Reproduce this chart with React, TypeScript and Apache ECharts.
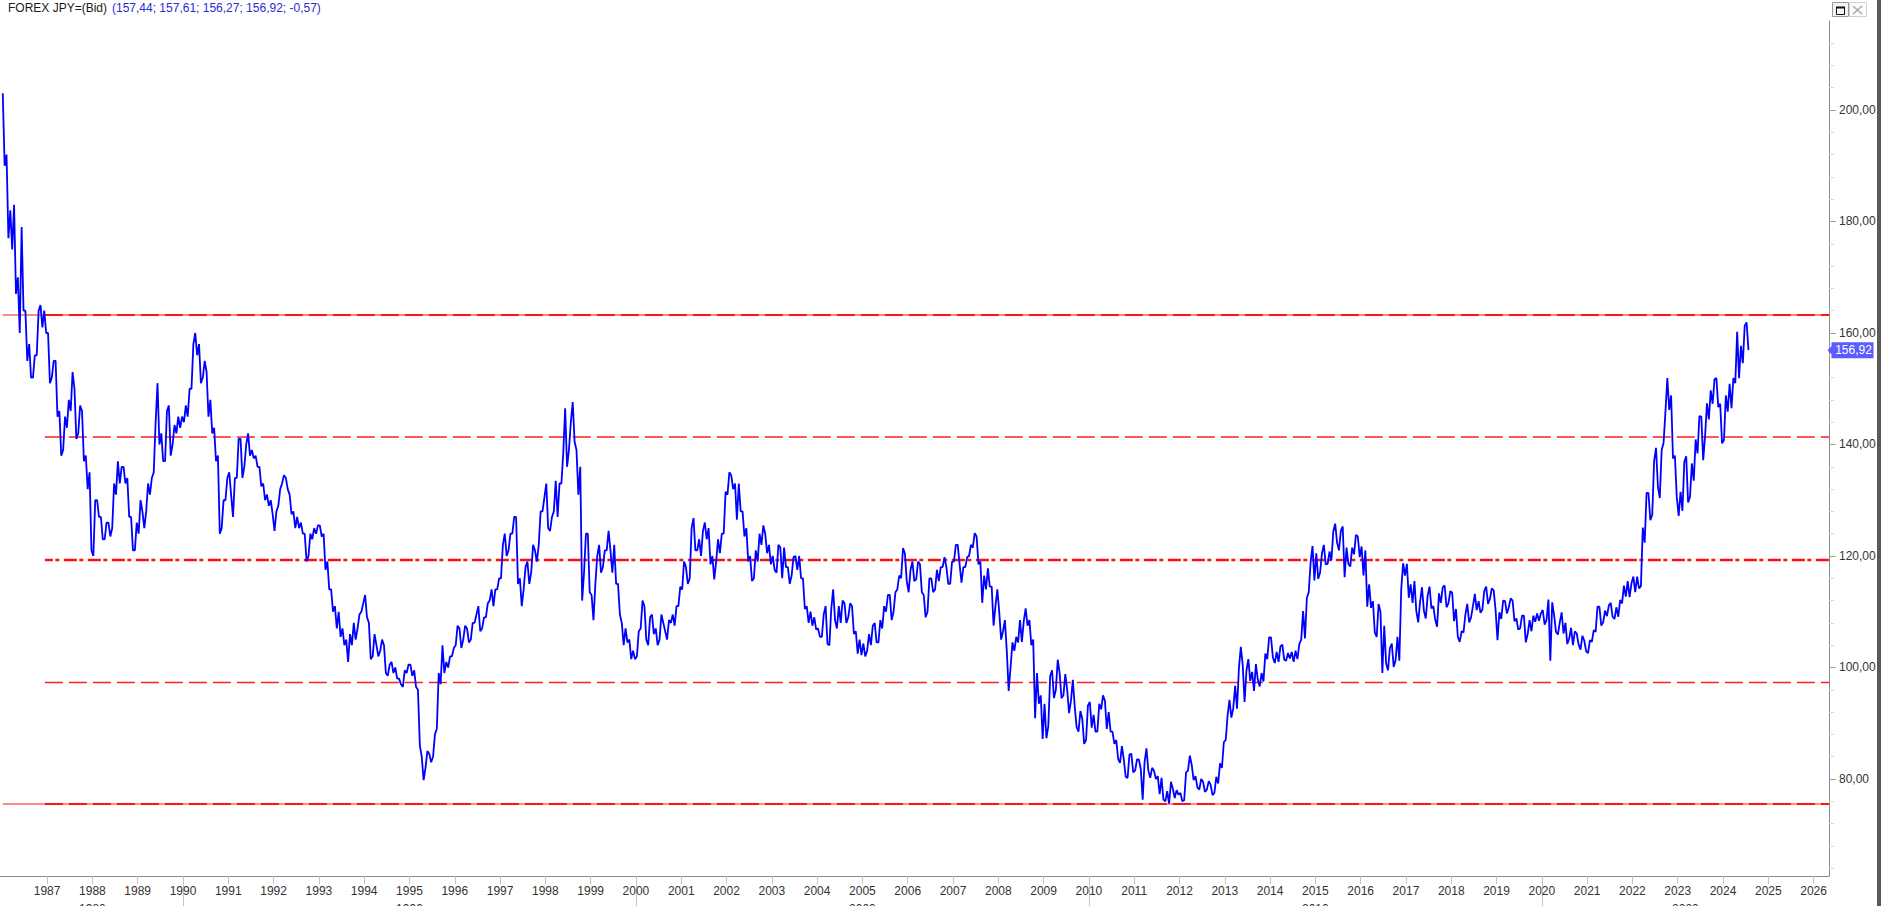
import React, { useEffect, useRef } from "react";
import * as echarts from "echarts";

const titleText = "FOREX JPY=(Bid)";
const quoteText = "(157,44; 157,61; 156,27; 156,92; -0,57)";
const lastClose = 156.92;
const firstYear = 1986;

// USD/JPY: two extremes per month (Jan 1986 .. Jul 2024), in the order they occurred
const jpy1986to1989 = [
  203, 190, 192, 177, 182, 175, 183, 167, 170, 160, 179, 164, 164, 155, 158, 152, 152, 156, 156, 164, 165, 161, 164, 160,
  160, 151, 152, 155, 155, 145, 146, 138, 139, 145, 143, 148, 146, 153, 150, 141, 142, 147, 146, 137, 138, 132, 135, 121,
  120, 130, 130, 127, 127, 123, 123, 126, 126, 123.5, 125, 133, 131, 137, 133, 136, 136, 133, 134, 127, 127, 121, 121, 126,
  124, 130, 128, 125, 128, 133, 131, 134, 135, 144, 151, 140, 142, 137, 137, 146, 147, 138, 140, 143.5, 142, 145, 143, 145,
];
const jpy1990s = [
  144, 147, 145, 150, 150, 158, 160, 156, 158, 151, 152, 155, 153, 145, 148, 142, 143, 137, 138, 124, 125, 130, 130, 134,
  135, 131, 127, 134, 134, 141, 141, 134, 136, 140, 142, 138, 139, 137.5, 138, 136, 136, 132.5, 133, 130, 131, 129, 130, 127.5,
  124.5, 128, 129, 132, 133, 134.5, 134, 132, 131, 127.5, 128, 125, 127, 125, 126, 124, 124, 119, 120, 124, 123, 125, 124, 125.5,
  125.5, 123.5, 124, 117.5, 119, 114, 114, 110, 111, 107, 110, 105.5, 107, 104, 105, 101, 106, 104, 108, 105, 107, 109.5, 110, 111.5,
  113, 109, 108, 101.5, 102, 106, 104, 102, 103, 105, 104, 99, 98.5, 100.5, 101, 99, 100, 98, 98, 97, 96.5, 99.5, 99, 100.5,
  100.5, 98.5, 99.5, 96.5, 96, 86, 84, 79.8, 82, 85, 84.5, 83, 84, 88, 89, 99, 97, 104, 99, 101, 100, 102, 102, 103.5,
  104, 107.5, 107, 103.5, 105, 107.5, 107, 104.5, 105, 108, 108, 109.5, 111, 106.5, 107, 109, 109, 111.5, 112, 114, 111, 114, 114, 116,
  116, 122, 124, 120, 121, 124, 124, 127, 127, 115, 116, 111, 114, 118, 119, 115, 117, 122, 121, 119, 122, 128, 128, 130.5,
  133, 125, 124.5, 127, 128, 133.5, 127, 133, 133, 138.5, 146.5, 136, 139, 144, 147.6, 140.5, 139, 131, 136, 112, 117, 124, 124, 113.5,
  113, 108.5, 115, 120, 122, 117, 118, 121, 121, 124.5, 121, 117, 122, 115, 115, 109.5, 108, 104, 107, 104.5, 105, 101.5, 103, 101.5,
];
const jpy2000s = [
  102, 106.5, 107, 112, 111, 105, 104, 109, 109.5, 106, 107, 104, 105, 109.5, 108, 106.5, 105, 108.5, 108, 109.5, 107.5, 111, 111, 114.5,
  114, 119, 118, 115, 116, 125, 126.8, 121, 121, 123, 120, 124.5, 126, 123, 125, 118.5, 120, 115.8, 119, 123, 120.5, 124, 124, 131.5,
  131, 135, 134.5, 132, 133, 126.5, 133, 128, 128, 123.5, 125, 119, 120, 115.5, 116, 121, 119, 124, 122, 125.5, 124, 120.5, 122, 118.5,
  120, 117.5, 117, 122, 121.5, 116, 121.5, 118, 118, 115, 116.5, 119.8, 120, 117.5, 120, 116, 116, 110.5, 111, 108, 110, 107.5, 109, 106.8,
  107, 105.5, 105.5, 109.5, 111, 104.2, 104, 110.5, 114, 108.5, 107, 111, 108, 112, 111.5, 108, 109, 111.5, 111, 106, 106.5, 102.5, 105, 102.2,
  104.3, 102, 103, 106, 104, 107.5, 108, 104.5, 104.5, 108.5, 107, 111, 110, 113, 113, 108.5, 110, 113.5, 114, 116.5, 116, 121.4, 120.5, 115.5,
  113.5, 117.5, 119, 115.5, 115.8, 119, 118.5, 113.5, 113, 109, 110, 116, 116, 113.5, 114, 117.5, 115.5, 118, 118, 119.8, 118, 115, 115, 119,
  119, 122, 122, 118.5, 115.2, 118, 118, 119.8, 120, 122, 121.5, 124.1, 123.5, 118.5, 119, 111.6, 116.5, 114, 117.8, 114.5, 114.5, 107.5, 111, 114,
  110, 105, 106.5, 108.5, 103, 95.8, 100, 104.5, 103, 105.5, 104.5, 108.5, 104.6, 108.3, 110.6, 107.5, 108.5, 104, 105, 90.9, 99, 93.5, 95, 87.2,
  93.5, 87.3, 89.5, 98.5, 99.5, 94.5, 96, 101.4, 99, 94.5, 95, 98.8, 96, 91.8, 94, 97.8, 93, 89.3, 88.5, 92.2, 90.8, 86.3, 87, 93.2,
];
const jpy2010s = [
  93.8, 89.2, 91.5, 88.5, 88.5, 93.5, 92.5, 95, 94, 89, 92, 88.5, 88.5, 86.3, 87, 83.6, 82.9, 85.9, 83.5, 80.4, 80.2, 84.4, 84.5, 81.2,
  81.5, 83.5, 83.5, 81.8, 76.3, 83, 85.5, 81.5, 80.2, 82, 81.5, 80, 80.5, 77.3, 80.2, 76.3, 76, 77.8, 75.6, 79.5, 78.2, 76.6, 78, 77.2,
  77.5, 76, 76.2, 81.2, 81.5, 84.2, 82.5, 79.8, 80.5, 78.5, 78.1, 80, 79.5, 77.7, 78.1, 79.6, 79, 77.1, 77.5, 80.4, 79.2, 82.8, 82, 86.6,
  87, 91.4, 94.2, 91, 92.7, 96.7, 92.6, 99.9, 103.7, 100.5, 93.8, 99.5, 101.5, 97.6, 99.2, 95.8, 100.6, 97.8, 96.6, 99, 97.5, 102.5, 101.5, 105.4,
  105.4, 101.8, 100.8, 102.8, 101, 103.8, 104.1, 101.4, 101.2, 102.6, 101.6, 102.8, 101, 103, 101.5, 104.2, 105, 110.1, 105.2, 112.5, 113.5, 118.9, 121.8, 115.6,
  120.5, 115.9, 117, 120.5, 122, 118.5, 118.6, 120.8, 119.2, 124.4, 125.8, 122.4, 121, 124.5, 125.3, 116.2, 121.5, 118.6, 118.1, 121.5, 120.3, 123.8, 123.5, 119.8,
  121.7, 116.5, 121, 110.9, 114.9, 110.7, 111.9, 106.3, 105.5, 111.4, 110, 99, 107.5, 100.7, 99.5, 103.5, 104.3, 100.1, 101.3, 105.5, 101.2, 114, 118.7, 116.5,
  118.6, 112.5, 114.9, 111.6, 115.5, 110.1, 108.1, 111.8, 114.4, 110.2, 108.8, 112.9, 114.5, 110.6, 111, 108.6, 107.3, 113.3, 111.6, 114.4, 114.7, 110.8, 111.5, 113.7,
  113.4, 108.3, 110.5, 105.5, 104.6, 106.5, 106.3, 109.5, 111.4, 108.1, 109, 111, 113.2, 110.3, 111.9, 109.8, 110.4, 113.7, 114.5, 111.4, 112.3, 114.2, 113.8, 110.3,
  104.9, 109.9, 108.7, 112, 111.9, 109.7, 110.8, 112.4, 112, 108.3, 108.8, 106.8, 107, 109.3, 109.3, 104.5, 106, 108.5, 106.5, 109.3, 108.2, 109.7, 108.4, 109.7,
];
const jpy2020s = [
  110.3, 107.7, 108.5, 112.2, 101.2, 111.7, 109.4, 106.4, 105.9, 108.1, 109.9, 106.1, 108, 104.2, 105.2, 107.1, 104, 106.5, 106.1, 104.1, 103.2, 105.7, 104.8, 102.9,
  102.6, 104.9, 104.6, 106.7, 106.4, 110.9, 110.9, 107.5, 108.1, 110.2, 109.2, 111.1, 111.6, 109.1, 108.7, 110.8, 109.1, 112.1, 111.5, 114.7, 112.7, 115.5, 112.6, 115.1,
  116.3, 113.5, 116.3, 114.2, 114.6, 125.1, 122.4, 131.3, 131.3, 126.4, 127.4, 137, 139.4, 132.5, 130.4, 139, 140.3, 145.9, 151.9, 146.2, 148.8, 137.5, 138, 130.6,
  127.2, 131.5, 128.1, 136.9, 137.9, 129.6, 130.6, 136.6, 133.5, 140.9, 138.4, 145.1, 145, 137.2, 141.5, 147.4, 144.5, 149.7, 147.3, 151.7, 151.9, 146.7, 147.3, 140.2,
  140.8, 148.8, 145.9, 150.9, 146.5, 151.9, 151, 160.2, 151.9, 157.7, 154.6, 161.3, 161.9, 156.92,
];

// horizontal support / resistance levels
const levelsSolidDashed = [163.3, 75.5];
const levelsDashed = [141.3];
const levelsDashDot = [119.3];
const levelsDashedThin = [97.3];

// axis ticks and labels
const yearLabels = [
  1987, 1988, 1989, 1990, 1991, 1992, 1993, 1994, 1995, 1996, 1997, 1998, 1999, 2000, 2001, 2002, 2003, 2004, 2005, 2006,
  2007, 2008, 2009, 2010, 2011, 2012, 2013, 2014, 2015, 2016, 2017, 2018, 2019, 2020, 2021, 2022, 2023, 2024, 2025, 2026,
];
const decadeTicks = [1990, 2000, 2010, 2020];
const decadeLabelAt = [1988, 1995, 2005, 2015, 2023.17];
const priceLabels = [80, 100, 120, 140, 160, 180, 200];
const priceMinorTicks = [
  64, 68, 72, 76, 80, 84, 88, 92, 96, 100, 104, 108, 112, 116, 120, 124, 128, 132, 136, 140, 144, 148, 152, 156, 160,
  164, 168, 172, 176, 180, 184, 188, 192, 196, 200, 204, 208, 212,
];

const X_MIN = 1985.96;
const X_MAX = 2026.34;
const Y_MIN = 62.6;
const Y_MAX = 215.96;
const LINE_START = 1986.02;
const DASH_START = 1986.95;

const FONT = 'Arial, "Liberation Sans", sans-serif';

const monthly = [...jpy1986to1989, ...jpy1990s, ...jpy2000s, ...jpy2010s, ...jpy2020s];
const points: number[][] = monthly.map((v, i) => {
  const m = Math.floor(i / 2);
  const t = firstYear + (m + (i % 2 === 0 ? 0.25 : 0.75)) / 12;
  return [t, v];
});

const seg = (y: number, x0: number, lineStyle: any) => [
  { coord: [x0, y], lineStyle },
  { coord: [X_MAX, y] },
];

const markLines: any[] = [];
levelsSolidDashed.forEach((y) => {
  markLines.push(seg(y, LINE_START, { color: "#ff8c8c", width: 2, type: "solid" }));
  markLines.push(seg(y, DASH_START, { color: "#ff1414", width: 2, type: [18, 6] }));
});
levelsDashed.forEach((y) => markLines.push(seg(y, DASH_START, { color: "#ff2020", width: 1.7, type: [18, 6] })));
levelsDashDot.forEach((y) =>
  markLines.push(seg(y, DASH_START, { color: "#ff1010", width: 2.3, type: [13, 2.5, 4, 4.5], dashOffset: 5 }))
);
levelsDashedThin.forEach((y) => markLines.push(seg(y, DASH_START, { color: "#ff2020", width: 1.3, type: [18, 6] })));

const fmtPrice = (v: number) => v.toFixed(2).replace(".", ",");

const option: any = {
  animation: false,
  backgroundColor: "#ffffff",
  grid: { left: 0, right: 52, top: 21, bottom: 30, containLabel: false, outerBoundsMode: "none" },
  xAxis: [
    {
      type: "value",
      position: "bottom",
      min: X_MIN,
      max: X_MAX,
      axisLine: { show: true, lineStyle: { color: "#8a8a8a", width: 1 } },
      axisTick: { show: true, customValues: yearLabels, length: 8, lineStyle: { color: "#c4c4c4" } },
      axisLabel: {
        show: true,
        customValues: yearLabels,
        margin: 9,
        color: "#333333",
        fontSize: 12,
        fontFamily: FONT,
        formatter: (v: number) => String(Math.round(v)),
      },
      splitLine: { show: false },
    },
    {
      type: "value",
      position: "bottom",
      offset: 0,
      min: X_MIN,
      max: X_MAX,
      axisLine: { show: false },
      axisTick: { show: true, customValues: decadeTicks, length: 30, lineStyle: { color: "#c4c4c4" } },
      axisLabel: {
        show: true,
        customValues: decadeLabelAt,
        margin: 27,
        color: "#333333",
        fontSize: 12,
        fontFamily: FONT,
        formatter: (v: number) => String(Math.floor(v / 10) * 10),
      },
      splitLine: { show: false },
    },
  ],
  yAxis: [
    {
      type: "value",
      position: "right",
      min: Y_MIN,
      max: Y_MAX,
      axisLine: { show: true, lineStyle: { color: "#8a8a8a", width: 1 } },
      axisTick: { show: true, customValues: priceMinorTicks, length: 5, lineStyle: { color: "#d8d8d8" } },
      axisLabel: {
        show: true,
        customValues: priceLabels,
        margin: 10,
        color: "#333333",
        fontSize: 12,
        fontFamily: FONT,
        formatter: (v: number) => fmtPrice(v),
      },
      splitLine: { show: false },
    },
    {
      type: "value",
      position: "right",
      min: Y_MIN,
      max: Y_MAX,
      axisLine: { show: false },
      axisTick: { show: true, customValues: priceLabels, length: 7, lineStyle: { color: "#a0a0a0" } },
      axisLabel: { show: false },
      splitLine: { show: false },
    },
  ],
  series: [
    {
      type: "line",
      xAxisIndex: 0,
      yAxisIndex: 0,
      data: [],
      z: 1,
      silent: true,
      markLine: {
        silent: true,
        symbol: ["none", "none"],
        label: { show: false },
        emphasis: { disabled: true },
        data: markLines,
      },
    },
    {
      type: "line",
      xAxisIndex: 0,
      yAxisIndex: 0,
      data: points,
      showSymbol: false,
      symbol: "none",
      z: 5,
      clip: true,
      silent: true,
      lineStyle: { color: "#0000ff", width: 1.8 },
      emphasis: { disabled: true },
      markPoint: {
        silent: true,
        symbol: "path://M0,8L4,4L4,0L46,0L46,16L4,16L4,12Z",
        symbolSize: [46, 16],
        symbolOffset: [21.5, 0],
        itemStyle: { color: "#5b5bff" },
        label: {
          show: true,
          position: "inside",
          offset: [3, 0],
          color: "#ffffff",
          fontSize: 12,
          fontFamily: FONT,
          formatter: () => fmtPrice(lastClose),
        },
        data: [{ coord: [X_MAX, lastClose], value: lastClose }],
      },
    },
  ],
  graphic: [
    {
      type: "text",
      x: 8,
      y: 7.5,
      style: { text: titleText, fill: "#1a1a1a", fontSize: 12, fontFamily: FONT, verticalAlign: "middle" },
    },
    {
      type: "text",
      x: 112,
      y: 7.5,
      style: { text: quoteText, fill: "#2b2bd2", fontSize: 12, fontFamily: FONT, verticalAlign: "middle" },
    },
    { type: "rect", shape: { x: 1832.5, y: 2.5, width: 16, height: 14 }, style: { fill: "#f4f4f4", stroke: "#9a9a9a", lineWidth: 1 } },
    { type: "rect", shape: { x: 1836.5, y: 7.5, width: 8, height: 7 }, style: { fill: "none", stroke: "#111111", lineWidth: 1 } },
    { type: "rect", shape: { x: 1836, y: 6.5, width: 9, height: 2 }, style: { fill: "#111111" } },
    { type: "rect", shape: { x: 1849.5, y: 2.5, width: 17, height: 14 }, style: { fill: "#fbfbfb", stroke: "#d0d0d0", lineWidth: 1 } },
    { type: "line", shape: { x1: 1853, y1: 6, x2: 1862, y2: 14 }, style: { stroke: "#a8a8a8", lineWidth: 1.5 } },
    { type: "line", shape: { x1: 1862, y1: 6, x2: 1853, y2: 14 }, style: { stroke: "#a8a8a8", lineWidth: 1.5 } },
    { type: "rect", shape: { x: 1877, y: 0, width: 4, height: 906 }, style: { fill: "#5a5a5a" } },
  ],
};

export default function App() {
  const ref = useRef<HTMLDivElement>(null);
  useEffect(() => {
    if (!ref.current) return;
    const chart = echarts.init(ref.current, null, { renderer: "svg" });
    chart.setOption(option);
    return () => chart.dispose();
  }, []);
  return (
    <div
      ref={ref}
      style={{ position: "fixed", left: 0, top: 0, width: 1881, height: 906, background: "#ffffff" }}
    />
  );
}
